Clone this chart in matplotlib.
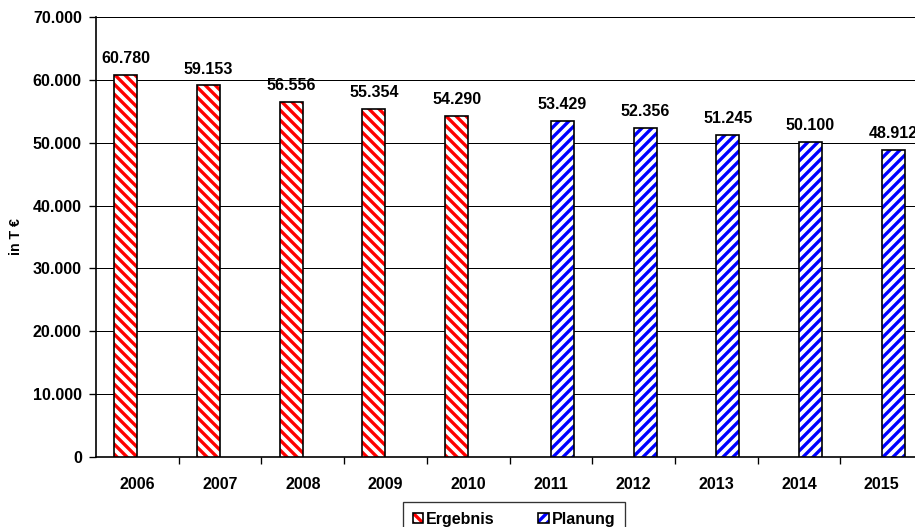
import numpy as np
import matplotlib.pyplot as plt
from matplotlib.patches import Patch
from matplotlib.legend_handler import HandlerTuple
from matplotlib.ticker import FuncFormatter

plt.rcParams['font.family'] = ['Liberation Sans', 'DejaVu Sans']
plt.rcParams['font.weight'] = 'bold'
plt.rcParams['hatch.linewidth'] = 2.0

# #############################################################################
# Data
years = ['2006', '2007', '2008', '2009', '2010',
         '2011', '2012', '2013', '2014', '2015']
ergebnis_years = ['2006', '2007', '2008', '2009', '2010']
ergebnis = [60780, 59153, 56556, 55354, 54290]
planung_years = ['2011', '2012', '2013', '2014', '2015']
planung = [53429, 52356, 51245, 50100, 48912]

DPI = 120
fig = plt.figure(figsize=(915 / DPI, 527 / DPI), dpi=DPI)
ax = fig.add_axes([96 / 915, 70 / 527, 827 / 915, 440 / 527])

width = 0.278
centers = {y: i + 0.5 for i, y in enumerate(years)}
RED_HATCH = '\\\\\\\\'
BLUE_HATCH = '////'


def draw_series(names, values, offset, color, hatch):
      x = [centers[n] + offset for n in names]
      ax.bar(x, values, width=width, align='center', color='white',
             edgecolor=color, hatch=hatch, linewidth=0, zorder=3)
      ax.bar(x, values, width=width, align='center', facecolor='none',
             edgecolor='black', linewidth=1.0, zorder=4)
      for xi, v in zip(x, values):
            ax.annotate(f'{v:,}'.replace(',', '.'), (xi, v),
                        xytext=(0, 7), textcoords='offset points',
                        ha='center', va='baseline', fontsize=9.6,
                        fontweight='bold', annotation_clip=False)


draw_series(ergebnis_years, ergebnis, -width / 2, 'red', RED_HATCH)
draw_series(planung_years, planung, width / 2, 'blue', BLUE_HATCH)

# axes styling
ax.set_xlim(0, len(years))
ax.set_ylim(0, 70000)
ax.set_yticks(np.arange(0, 70001, 10000))
ax.yaxis.set_major_formatter(
      FuncFormatter(lambda v, p: f'{int(v):,}'.replace(',', '.')))
ax.grid(axis='y', color='black', linewidth=0.6, zorder=0)
ax.set_axisbelow(True)

ax.set_xticks(np.arange(1, len(years)))
ax.set_xticklabels([])
ax.set_xticks([centers[y] for y in years], minor=True)
ax.set_xticklabels(years, minor=True)
ax.tick_params(axis='x', which='major', length=4, width=0.8, direction='out')
ax.tick_params(axis='x', which='minor', length=0, pad=12, labelsize=9.6)
ax.tick_params(axis='y', length=4, width=0.8, pad=4.5, labelsize=9.6)

for side in ('top', 'right'):
      ax.spines[side].set_visible(False)
for side in ('left', 'bottom'):
      ax.spines[side].set_linewidth(1.0)
      ax.spines[side].set_color('black')

ax.set_ylabel('in T €', fontsize=8.5, fontweight='bold')
ax.yaxis.set_label_coords(-0.088, 0.5)

# legend
h_erg = (Patch(facecolor='white', edgecolor='red', hatch=RED_HATCH, linewidth=0),
         Patch(facecolor='none', edgecolor='black', linewidth=1.0))
h_plan = (Patch(facecolor='white', edgecolor='blue', hatch=BLUE_HATCH, linewidth=0),
          Patch(facecolor='none', edgecolor='black', linewidth=1.0))
leg = fig.legend([h_erg, h_plan], ['Ergebnis', 'Planung'], ncol=2,
                 loc='upper center', bbox_to_anchor=(514 / 915, 1 - 502 / 527),
                 handler_map={tuple: HandlerTuple(ndivide=1, pad=0)},
                 fontsize=9.6, frameon=True, fancybox=False,
                 handlelength=0.65, handleheight=0.65, handletextpad=0.2,
                 columnspacing=2.7, borderpad=0.6, borderaxespad=0)
leg.get_frame().set_edgecolor('black')
leg.get_frame().set_linewidth(0.8)
for t in leg.get_texts():
      t.set_fontweight('bold')

fig.savefig('out.png', dpi=DPI)
